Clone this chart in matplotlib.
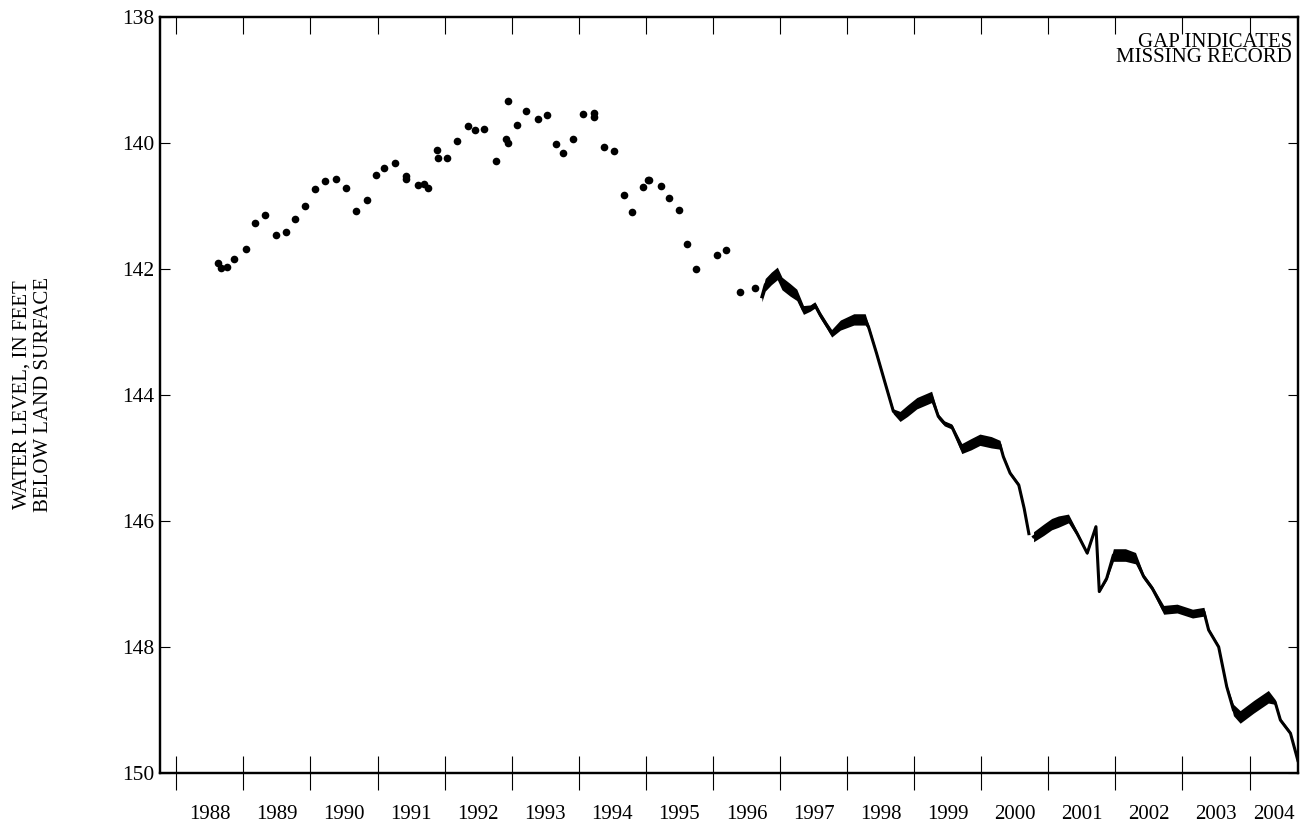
import matplotlib.pyplot as plt
import numpy as np

plt.rcParams['font.family'] = ['Liberation Serif', 'DejaVu Serif']

# periodic tape measurements (decimal year, feet below land surface)
dot_year = [1988.62, 1988.67, 1988.75, 1988.86, 1989.04, 1989.17, 1989.32, 1989.48, 1989.63, 1989.77,
            1989.92, 1990.07, 1990.22, 1990.38, 1990.53, 1990.68, 1990.84, 1990.97, 1991.10, 1991.26,
            1991.42, 1991.42, 1991.60, 1991.70, 1991.76, 1991.89, 1991.90, 1992.04, 1992.19, 1992.35,
            1992.46, 1992.59, 1992.77, 1992.92, 1992.94, 1992.95, 1993.08, 1993.21, 1993.39, 1993.53,
            1993.66, 1993.77, 1993.92, 1994.07, 1994.23, 1994.23, 1994.38, 1994.53, 1994.67, 1994.80,
            1994.96, 1995.03, 1995.05, 1995.22, 1995.35, 1995.49, 1995.62, 1995.75, 1996.06, 1996.19,
            1996.41, 1996.62]
dot_level = [141.90, 141.98, 141.96, 141.84, 141.68, 141.27, 141.15, 141.46, 141.42, 141.20,
             141.00, 140.73, 140.61, 140.57, 140.71, 141.08, 140.90, 140.51, 140.40, 140.31,
             140.52, 140.57, 140.67, 140.65, 140.71, 140.11, 140.24, 140.23, 139.96, 139.73,
             139.80, 139.77, 140.28, 139.94, 140.00, 139.34, 139.71, 139.49, 139.62, 139.55,
             140.02, 140.16, 139.93, 139.54, 139.52, 139.58, 140.07, 140.12, 140.83, 141.09,
             140.70, 140.58, 140.58, 140.69, 140.88, 141.06, 141.60, 142.00, 141.77, 141.70,
             142.37, 142.30]

# continuous recorder, first segment (ends at the gap in late 2000)
rec1_year = [1996.73, 1996.78, 1996.87, 1996.96, 1997.03, 1997.15, 1997.25, 1997.35, 1997.45, 1997.52,
             1997.60, 1997.70, 1997.77, 1997.90, 1998.10, 1998.27, 1998.32, 1998.44, 1998.57, 1998.69,
             1998.79, 1998.90, 1999.04, 1999.26, 1999.36, 1999.45, 1999.56, 1999.71, 1999.85, 1999.98,
             2000.15, 2000.28, 2000.33, 2000.43, 2000.56, 2000.64, 2000.71]
rec1_level = [142.44, 142.25, 142.15, 142.07, 142.23, 142.33, 142.41, 142.65, 142.62, 142.57,
              142.73, 142.90, 143.02, 142.89, 142.80, 142.80, 142.92, 143.34, 143.82, 144.26,
              144.34, 144.25, 144.13, 144.03, 144.34, 144.45, 144.50, 144.85, 144.78, 144.71,
              144.75, 144.79, 144.98, 145.24, 145.43, 145.80, 146.20]
# daily fluctuation (half range, feet)
rec1_spread = [0.08, 0.10, 0.10, 0.10, 0.10, 0.10, 0.09, 0.07, 0.05, 0.05,
               0.05, 0.05, 0.06, 0.08, 0.09, 0.09, 0.04, 0.03, 0.03, 0.04,
               0.08, 0.09, 0.09, 0.09, 0.04, 0.04, 0.04, 0.08, 0.09, 0.09,
               0.09, 0.07, 0.03, 0.03, 0.03, 0.03, 0.03]

# continuous recorder, second segment
rec2_year = [2000.78, 2000.93, 2001.05, 2001.15, 2001.30, 2001.43, 2001.58, 2001.71, 2001.76, 2001.87,
             2001.97, 2002.15, 2002.30, 2002.42, 2002.55, 2002.72, 2002.92, 2003.15, 2003.32, 2003.39,
             2003.54, 2003.66, 2003.76, 2003.86, 2004.06, 2004.28, 2004.38, 2004.46, 2004.61, 2004.72]
rec2_level = [146.25, 146.14, 146.05, 146.01, 145.96, 146.20, 146.51, 146.09, 147.12, 146.91,
              146.54, 146.54, 146.59, 146.88, 147.07, 147.41, 147.39, 147.47, 147.44, 147.73,
              148.00, 148.63, 149.00, 149.11, 148.95, 148.79, 148.87, 149.16, 149.37, 149.80]
rec2_spread = [0.08, 0.09, 0.09, 0.09, 0.07, 0.04, 0.02, 0.01, 0.01, 0.03,
               0.10, 0.10, 0.09, 0.04, 0.04, 0.07, 0.07, 0.07, 0.07, 0.03,
               0.03, 0.03, 0.09, 0.10, 0.10, 0.10, 0.04, 0.03, 0.03, 0.03]

years = list(range(1988, 2005))
x_min, x_max = 1987.757, 2004.722

fig = plt.figure(figsize=(13.07, 8.27), dpi=100)
ax = fig.add_axes([0.1224, 0.0653, 0.8707, 0.9141])

ax.plot(dot_year, dot_level, 'o', color='black', markersize=5.5, markeredgewidth=0)
for yr, lev, spr in [(rec1_year, rec1_level, rec1_spread), (rec2_year, rec2_level, rec2_spread)]:
    yr = np.array(yr)
    lev = np.array(lev)
    spr = np.array(spr)
    ax.fill_between(yr, lev - spr, lev + spr, color='black', linewidth=0)
    ax.plot(yr, lev, color='black', linewidth=2.2)

ax.set_xlim(x_min, x_max)
ax.set_ylim(150, 138)
ax.set_yticks(np.arange(138, 151, 2))
ax.tick_params(axis='y', direction='in', length=7, width=0.8, labelsize=15.5, pad=4,
               left=True, right=True)

# year boundaries as ticks, year names centred between them
ax.set_xticks(years)
ax.set_xticklabels([])
ax.tick_params(axis='x', which='major', direction='inout', length=24, width=0.8)
label_pos = [y + 0.5 for y in years[:-1]] + [(years[-1] + x_max) / 2]
ax.set_xticks(label_pos, minor=True)
ax.set_xticklabels([str(y) for y in years], minor=True)
ax.tick_params(axis='x', which='minor', length=0, labelsize=15, pad=23)

top = ax.twiny()
top.set_xlim(x_min, x_max)
top.set_xticks(years)
top.tick_params(axis='x', direction='in', length=12, width=0.8, labeltop=False)

for a in (ax, top):
    for sp in a.spines.values():
        sp.set_linewidth(1.6)

fig.text(33 / 1307, 1 - 395 / 827, 'WATER LEVEL, IN FEET\nBELOW LAND SURFACE',
         rotation=90, ha='center', va='center', multialignment='center',
         fontsize=15, linespacing=1.15)
fig.text(1292 / 1307, 1 - 33 / 827, 'GAP INDICATES\nMISSING RECORD',
         ha='right', va='top', fontsize=15, linespacing=0.75)

fig.savefig('out.png', dpi=100)
